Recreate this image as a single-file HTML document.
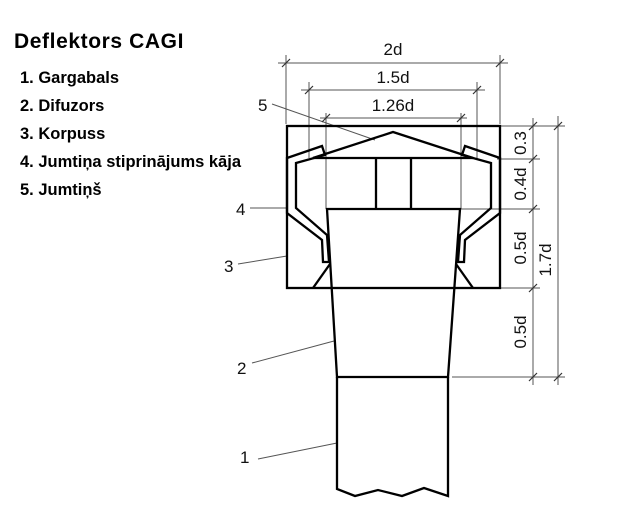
<!DOCTYPE html>
<html><head><style>
body{margin:0;width:620px;height:520px;background:#fff;overflow:hidden;position:relative;font-family:"Liberation Sans",sans-serif}
.t{position:absolute;font-weight:bold;color:#000}
</style></head><body>
<div class="t" style="left:14px;top:30px;font-size:21px;letter-spacing:0.6px">Deflektors CAGI</div>
<div class="t" style="left:20px;top:64px;font-size:16.5px;line-height:28px">1. Gargabals<br>2. Difuzors<br>3. Korpuss<br>4. Jumtiņa stiprinājums kāja<br>5. Jumtiņš</div>
<svg width="620" height="520" style="position:absolute;left:0;top:0" font-family="Liberation Sans, sans-serif" font-size="17">
<g stroke="#555" stroke-width="1" fill="none">
<line x1="286" y1="55" x2="286" y2="124"/><line x1="500" y1="55" x2="500" y2="124"/>
<line x1="278" y1="63" x2="508" y2="63"/>
<line x1="309" y1="82" x2="309" y2="158"/><line x1="477" y1="82" x2="477" y2="158"/>
<line x1="301" y1="90" x2="485" y2="90"/>
<line x1="326" y1="113" x2="326" y2="209"/><line x1="461" y1="113" x2="461" y2="209"/>
<line x1="320" y1="118" x2="467" y2="118"/>
<line x1="533" y1="118" x2="533" y2="385"/><line x1="558" y1="116" x2="558" y2="385"/>
<line x1="500" y1="126" x2="565" y2="126"/>
<line x1="497" y1="159" x2="540" y2="159"/>
<line x1="460" y1="209" x2="540" y2="209"/>
<line x1="500" y1="288" x2="540" y2="288"/>
<line x1="452" y1="377" x2="565" y2="377"/>
<line x1="272" y1="104" x2="375" y2="140"/>
<line x1="250" y1="208" x2="287" y2="208"/>
<line x1="238" y1="264" x2="287" y2="256"/>
<line x1="252" y1="363" x2="334" y2="341"/>
<line x1="258" y1="459" x2="337" y2="443"/>
</g>
<g stroke="#333" stroke-width="1.2">
<line x1="282" y1="67" x2="290" y2="59"/><line x1="496" y1="67" x2="504" y2="59"/>
<line x1="305" y1="94" x2="313" y2="86"/><line x1="473" y1="94" x2="481" y2="86"/>
<line x1="322" y1="122" x2="330" y2="114"/><line x1="457" y1="122" x2="465" y2="114"/>
<line x1="529" y1="130" x2="537" y2="122"/><line x1="554" y1="130" x2="562" y2="122"/>
<line x1="529" y1="163" x2="537" y2="155"/><line x1="529" y1="213" x2="537" y2="205"/>
<line x1="529" y1="292" x2="537" y2="284"/><line x1="529" y1="381" x2="537" y2="373"/>
<line x1="554" y1="381" x2="562" y2="373"/>
</g>
<g fill="#111">
<text x="393" y="55" text-anchor="middle">2d</text>
<text x="393" y="83" text-anchor="middle">1.5d</text>
<text x="393" y="111" text-anchor="middle">1.26d</text>
<text transform="translate(526,143) rotate(-90)" text-anchor="middle">0.3</text>
<text transform="translate(526,184) rotate(-90)" text-anchor="middle">0.4d</text>
<text transform="translate(526,248) rotate(-90)" text-anchor="middle">0.5d</text>
<text transform="translate(526,332) rotate(-90)" text-anchor="middle">0.5d</text>
<text transform="translate(551,260) rotate(-90)" text-anchor="middle">1.7d</text>
<text x="258" y="111">5</text>
<text x="236" y="215">4</text>
<text x="224" y="272">3</text>
<text x="237" y="374">2</text>
<text x="240" y="463">1</text>
</g>
<g stroke="#000" stroke-width="2.3" fill="none" stroke-linejoin="miter">
<rect x="287" y="126" width="213" height="162"/>
<polyline points="313,158 393,132 473,158"/>
<line x1="313" y1="158" x2="473" y2="158"/>
<line x1="376" y1="158" x2="376" y2="209"/><line x1="411" y1="158" x2="411" y2="209"/>
<polygon points="327,209 460,209 448,377 337,377"/>
<polygon points="287,158 322,146 325,155 296,163 296,208 327,235 329,262 323,262 322,240 287,213"/>
<polygon points="500,158 465,146 462,155 491,163 491,208 460,235 458,262 464,262 465,240 500,213"/>
<line x1="313" y1="288" x2="330" y2="264"/><line x1="473" y1="288" x2="456" y2="264"/>
<polyline points="337,377 337,489 355,496 378,490 402,496 424,488 448,496 448,377"/>
</g>
</svg>
</body></html>
